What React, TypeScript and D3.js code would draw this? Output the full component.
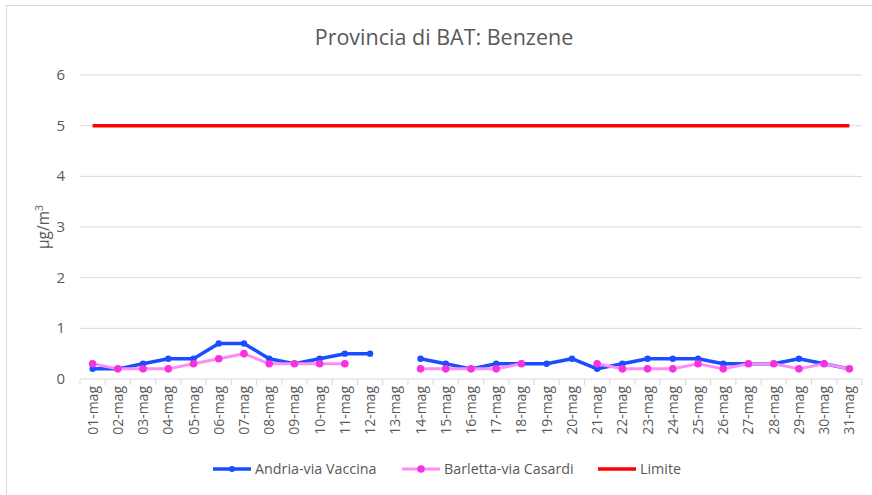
import React from "react";
import * as d3 from "d3";

const categories = Array.from({ length: 31 }, (_, i) => `${String(i + 1).padStart(2, "0")}-mag`);
const andria: (number | null)[] = [0.2, 0.2, 0.3, 0.4, 0.4, 0.7, 0.7, 0.4, 0.3, 0.4, 0.5, 0.5, null, 0.4, 0.3, 0.2, 0.3, 0.3, 0.3, 0.4, 0.2, 0.3, 0.4, 0.4, 0.4, 0.3, 0.3, 0.3, 0.4, 0.3, 0.2];
const barletta: (number | null)[] = [0.3, 0.2, 0.2, 0.2, 0.3, 0.4, 0.5, 0.3, 0.3, 0.3, 0.3, null, null, 0.2, 0.2, 0.2, 0.2, 0.3, null, null, 0.3, 0.2, 0.2, 0.2, 0.3, 0.2, 0.3, 0.3, 0.2, 0.3, 0.2];
const limite: number[] = categories.map(() => 5);
const yTicks = [0, 1, 2, 3, 4, 5, 6];

const W = 872, H = 495;
const left = 80, right = 862, top = 75, bottom = 379;
const FONT = "'Open Sans', 'Noto Sans', sans-serif";
const TXT = "#595959";

export default function App() {
  const x = d3.scaleBand<string>().domain(categories).range([left, right]).paddingInner(0).paddingOuter(0);
  const y = d3.scaleLinear().domain([0, 6]).range([bottom, top]);
  const cx = (i: number) => (x(categories[i]) as number) + x.bandwidth() / 2;
  const line = d3.line<number | null>()
    .defined((d) => d != null)
    .x((_, i) => cx(i))
    .y((d) => y(d as number));
  const series = [
    { name: "Andria-via Vaccina", data: andria, line: "#1a4dff", dot: "#1a4dff", lw: 3.5, r: 3.2 },
    { name: "Barletta-via Casardi", data: barletta, line: "#ff8cf5", dot: "#f531e0", lw: 3, r: 3.8 },
  ];
  const legend = [
    { name: "Andria-via Vaccina", x: 213, color: "#1a4dff", dot: "#1a4dff", r: 3, lw: 3.5 },
    { name: "Barletta-via Casardi", x: 402, color: "#ff8cf5", dot: "#f531e0", r: 3.8, lw: 3 },
    { name: "Limite", x: 598, color: "#ff0000", dot: null, r: 0, lw: 3.5 },
  ];
  return (
    <svg width={W} height={H} style={{ position: "absolute", left: 0, top: 0, background: "#fff" }} fontFamily={FONT}>
      <rect x={6.5} y={5.5} width={W + 20} height={H + 20} fill="#fff" stroke="#d9d9d9" strokeWidth={1} />
      <text x={444} y={45} textAnchor="middle" fontSize={21.5} fill={TXT}>Provincia di BAT: Benzene</text>
      {yTicks.map((t) => (
        <g key={t}>
          {t > 0 && <line x1={left} x2={right} y1={y(t)} y2={y(t)} stroke="#d9d9d9" strokeWidth={1} />}
          <text x={65} y={y(t) + 5} textAnchor="end" fontSize={15} fill={TXT}>{t}</text>
        </g>
      ))}
      <line x1={left} x2={right} y1={bottom} y2={bottom} stroke="#d9d9d9" strokeWidth={1} />
      {d3.range(categories.length + 1).map((i) => {
        const xx = left + i * x.bandwidth();
        return <line key={i} x1={xx} x2={xx} y1={bottom} y2={bottom + 6} stroke="#d9d9d9" strokeWidth={1} />;
      })}
      {categories.map((c, i) => (
        <text key={c} transform={`translate(${cx(i) + 5},${bottom + 7}) rotate(-90)`} textAnchor="end" fontSize={14} fill={TXT}>{c}</text>
      ))}
      <text transform={`translate(49,227) rotate(-90)`} textAnchor="middle" fontSize={15.5} fill={TXT}>
        µg/m<tspan dy={-6} fontSize={10.5}>3</tspan>
      </text>
      <path d={line(limite) ?? ""} fill="none" stroke="#ff0000" strokeWidth={3.5} />
      {series.map((s) => (
        <g key={s.name}>
          <path d={line(s.data) ?? ""} fill="none" stroke={s.line} strokeWidth={s.lw} strokeLinejoin="round" />
          {s.data.map((v, i) => v == null ? null : (
            <circle key={i} cx={cx(i)} cy={y(v)} r={s.r} fill={s.dot} />
          ))}
        </g>
      ))}
      {legend.map((l) => (
        <g key={l.name}>
          <line x1={l.x} x2={l.x + 38} y1={469} y2={469} stroke={l.color} strokeWidth={l.lw} />
          {l.dot && <circle cx={l.x + 19} cy={469} r={l.r} fill={l.dot} />}
          <text x={l.x + 42} y={474} fontSize={14.3} fill={TXT}>{l.name}</text>
        </g>
      ))}
    </svg>
  );
}
